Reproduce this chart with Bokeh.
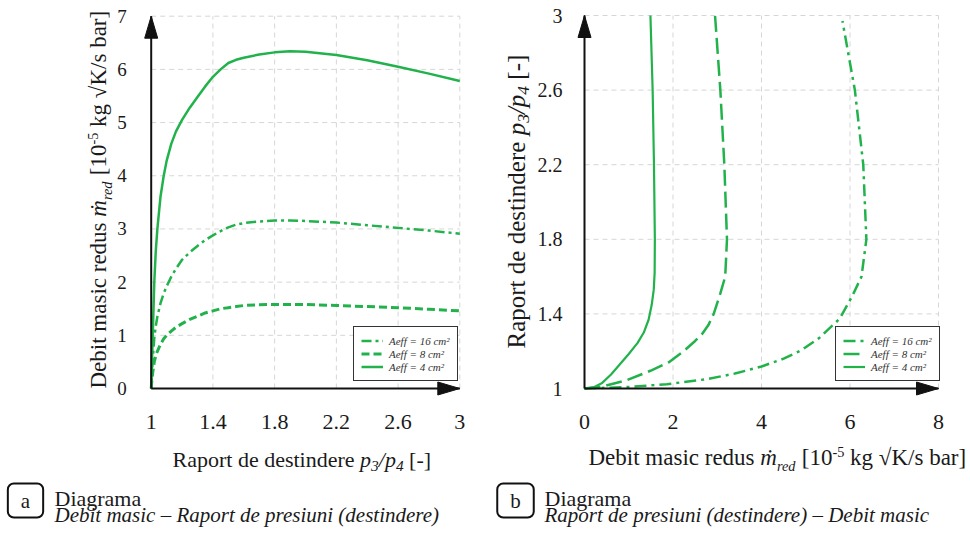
import math
from bokeh.plotting import figure
from bokeh.models import Range1d, Label, Legend, LegendItem
from bokeh.layouts import row
from bokeh.embed import file_html
from bokeh.resources import INLINE
from bokeh.core.properties import value

# ---------------- data ----------------
# Panel a: x = expansion ratio p3/p4 [-], y = reduced mass flow [1e-5 kg sqrt(K)/s bar]
pr_a = [1.0, 1.005, 1.01, 1.02, 1.03, 1.04, 1.06, 1.08, 1.1, 1.13, 1.16, 1.2, 1.25, 1.3,
        1.35, 1.4, 1.45, 1.5, 1.55, 1.6, 1.7, 1.8, 1.9, 2.0, 2.2, 2.4, 2.6, 2.8, 3.0]
m_a_solid = [0.0, 0.5, 1.0, 2.0, 2.6, 3.0, 3.6, 3.98, 4.28, 4.6, 4.83, 5.05, 5.28, 5.48,
             5.68, 5.86, 6.0, 6.12, 6.18, 6.22, 6.28, 6.32, 6.34, 6.33, 6.27, 6.17, 6.05,
             5.92, 5.78]
m_a_dashdot = [0.0, 0.3, 0.55, 0.95, 1.18, 1.35, 1.6, 1.78, 1.92, 2.1, 2.25, 2.42, 2.56, 2.68,
               2.79, 2.88, 2.96, 3.03, 3.08, 3.11, 3.14, 3.16, 3.16, 3.15, 3.12, 3.07, 3.02,
               2.97, 2.91]
m_a_dashed = [0.0, 0.18, 0.3, 0.5, 0.62, 0.7, 0.83, 0.93, 1.0, 1.08, 1.15, 1.22, 1.3, 1.36,
              1.42, 1.46, 1.5, 1.52, 1.54, 1.56, 1.575, 1.58, 1.58, 1.58, 1.56, 1.54, 1.52,
              1.49, 1.46]

# Panel b: x = reduced mass flow, y = expansion ratio
m_b_solid = [0.0, 0.2, 0.4, 0.6, 0.8, 1.0, 1.2, 1.34, 1.45, 1.52, 1.565, 1.585, 1.59, 1.57,
             1.54, 1.49]
pr_b_solid = [1.0, 1.006, 1.03, 1.075, 1.13, 1.185, 1.245, 1.3, 1.37, 1.45, 1.53, 1.62, 1.8,
              2.2, 2.6, 3.0]
m_b_dashed = [0.0, 0.4, 0.96, 1.49, 1.9, 2.24, 2.5, 2.65, 2.8, 2.92, 3.07, 3.18, 3.22, 3.16,
              3.07, 2.95]
pr_b_dashed = [1.0, 1.01, 1.045, 1.095, 1.14, 1.2, 1.255, 1.29, 1.34, 1.4, 1.51, 1.6, 1.8, 2.2,
               2.6, 3.0]
m_b_dashdot = [0.0, 1.0, 1.86, 2.76, 3.4, 4.0, 4.5, 4.9, 5.3, 5.77, 6.06, 6.26, 6.37, 6.30,
               6.11, 5.83]
pr_b_dashdot = [1.0, 1.008, 1.023, 1.05, 1.08, 1.118, 1.16, 1.205, 1.27, 1.375, 1.5, 1.6, 1.8,
                2.2, 2.6, 2.97]

legend_labels = ["Aeff = 16 cm²", "Aeff = 8 cm²", "Aeff = 4 cm²"]

xa_ticks = [1, 1.4, 1.8, 2.2, 2.6, 3]
xa_labels = ["1", "1.4", "1.8", "2.2", "2.6", "3"]
ya_ticks = [0, 1, 2, 3, 4, 5, 6, 7]
ya_labels = ["0", "1", "2", "3", "4", "5", "6", "7"]
xb_ticks = [0, 2, 4, 6, 8]
xb_labels = ["0", "2", "4", "6", "8"]
yb_ticks = [1, 1.4, 1.8, 2.2, 2.6, 3]
yb_labels = ["1", "1.4", "1.8", "2.2", "2.6", "3"]

# ---------------- style ----------------
FONT = "Liberation Serif"
TXT = "#1a1a1a"
GREEN = "#22b24c"
GRID = "#d6d6d6"
AXC = "#111111"
H_TOTAL = 536
MID = 0.3375   # distance (em) from alphabetic baseline to the middle line

REG = {' ': 250, 'a': 444, 'b': 500, 'c': 444, 'd': 500, 'e': 444, 'f': 333, 'g': 500, 'h': 500,
       'i': 278, 'k': 500, 'l': 278, 'm': 778, 'n': 500, 'o': 500, 'p': 500, 'r': 333, 's': 389,
       't': 278, 'u': 500, 'D': 722, 'R': 667, 'K': 722, '[': 333, ']': 333, '-': 333, '/': 278,
       '.': 250, '√': 549, '(': 333, ')': 333}
ITA = {' ': 250, 'a': 500, 'b': 500, 'c': 444, 'd': 500, 'e': 444, 'f': 278, 'i': 278, 'm': 722,
       'n': 500, 'p': 500, 'r': 389, 's': 389, 't': 278, 'u': 500, 'ṁ': 722, '/': 278}


def tw(text, italic, size):
    tbl = ITA if italic else REG
    return sum(tbl.get(ch, 500) for ch in text) * size / 1000.0


def rich(p, segs, x0, y0, vertical, X, Y):
    """x0, y0: picture px of the start of the main baseline."""
    pos = 0.0
    for text, italic, size, shift in segs:
        lead = len(text) - len(text.lstrip(' '))
        if lead:
            pos += tw(' ' * lead, italic, size)
            text = text.lstrip(' ')
        up = shift + MID * size
        if vertical:
            px, py, ang = x0 - up, y0 - pos, math.pi / 2
        else:
            px, py, ang = x0 + pos, y0 - up, 0.0
        p.add_layout(Label(x=X(px), y=Y(py), text=text, angle=ang, text_align="left",
                           text_baseline="middle", text_font=FONT,
                           text_font_size=f"{size}px",
                           text_font_style="italic" if italic else "normal",
                           text_color=TXT))
        pos += tw(text, italic, size)


def mdot_segs(S):
    return [("Debit masic redus ", False, S, 0), ("ṁ", True, S, 0),
            ("red", True, round(S * 0.62, 1), -0.22 * S), (" [10", False, S, 0),
            ("-5", False, round(S * 0.62, 1), 0.38 * S), (" kg √K/s bar]", False, S, 0)]


def ratio_segs(S):
    s2 = round(S * 0.7, 1)
    return [("Raport de destindere ", False, S, 0), ("p", True, S, 0), ("3", True, s2, -0.2 * S),
            ("/", True, S, 0), ("p", True, S, 0), ("4", True, s2, -0.2 * S), (" [-]", False, S, 0)]


def caption(p, X, Y, letter, cx, tx, line2):
    S = 21
    p.add_layout(Label(x=X(cx), y=Y(500), text=letter, text_align="center",
                       text_baseline="middle", text_font=FONT, text_font_size=f"{S}px",
                       text_color=TXT, border_line_color="#111111", border_line_width=2,
                       border_radius=6, background_fill_color="white",
                       padding=dict(left=13, right=13, top=5, bottom=5)))
    p.add_layout(Label(x=X(tx), y=Y(505 - MID * 22), text="Diagrama", text_font=FONT,
                       text_font_size="22px", text_color=TXT, text_baseline="middle"))
    p.add_layout(Label(x=X(tx), y=Y(522 - MID * S), text=line2, text_font=FONT,
                       text_font_size=f"{S}px", text_font_style="italic", text_color=TXT,
                       text_baseline="middle"))


def make_fig(x_lo, x_hi, X, Y):
    fig = figure(width=x_hi - x_lo, height=H_TOTAL,
                 x_range=Range1d(X(x_lo), X(x_hi)), y_range=Range1d(Y(H_TOTAL), Y(0)),
                 min_border=0, x_axis_type=None, y_axis_type=None,
                 toolbar_location=None, output_backend="svg", title=None)
    fig.outline_line_color = None
    fig.background_fill_color = "white"
    fig.border_fill_color = "white"
    return fig


def tick_labels(fig, xt, xl, yt, yl, x0, y0, xsize, ysize, xoff_y, yoff_x):
    fig.text(x=xt, y=[y0] * len(xt), text=xl, text_align="center", text_baseline="middle",
             y_offset=xoff_y, text_font=value(FONT), text_font_size=value(xsize),
             text_color=TXT)
    fig.text(x=[x0] * len(yt), y=yt, text=yl, text_align="right", text_baseline="middle",
             x_offset=yoff_x, text_font=value(FONT), text_font_size=value(ysize),
             text_color=TXT)


def axes_arrows(fig, x0, x1, y0, y1, kx, ky):
    fig.line([x0, x1], [y0, y0], line_color=AXC, line_width=2)
    fig.line([x0, x0], [y0, y1], line_color=AXC, line_width=2)
    L, H = 22, 6.5
    fig.patch([x0 - H * kx, x0, x0 + H * kx], [y1 - L * ky, y1, y1 - L * ky],
              fill_color=AXC, line_color=AXC, line_width=1)
    fig.patch([x1 - L * kx, x1, x1 - L * kx], [y0 - H * ky, y0, y0 + H * ky],
              fill_color=AXC, line_color=AXC, line_width=1)


def grid_lines(fig, xt, yt, x0, x1, y0, y1):
    vx = [t for t in xt if t != x0]
    hy = [t for t in yt if t != y0]
    fig.segment(x0=vx, y0=[y0] * len(vx), x1=vx, y1=[y1] * len(vx), line_color=GRID,
                line_width=1, line_dash="5 4")
    fig.segment(x0=[x0] * len(hy), y0=hy, x1=[x1] * len(hy), y1=hy, line_color=GRID,
                line_width=1, line_dash="5 4")


def make_legend(fig, rends, loc):
    items = [LegendItem(label=lab, renderers=[r]) for lab, r in zip(legend_labels, rends)]
    leg = Legend(items=items, location=loc, margin=0, padding=7, spacing=0,
                 glyph_width=22, glyph_height=13, label_height=13, label_standoff=6,
                 label_text_font=FONT, label_text_font_style="italic",
                 label_text_font_size="11px", label_text_color="#333333",
                 border_line_color="#333333", border_line_width=1, border_line_alpha=1,
                 background_fill_color="white", background_fill_alpha=1)
    fig.add_layout(leg)


# ---------------- panel a ----------------
AX0, AX1, AY0, AY1 = 150.7, 459.3, 388.0, 15.7     # picture px of x=1, x=3, y=0, y=7
kxa = 2.0 / (AX1 - AX0)
kya = 7.0 / (AY0 - AY1)
Xa = lambda px: 1 + (px - AX0) * kxa
Ya = lambda py: (AY0 - py) * kya

pa = make_fig(0, 485, Xa, Ya)
grid_lines(pa, xa_ticks, ya_ticks, 1, 3, 0, 7)
ra3 = pa.line(pr_a, m_a_dashdot, line_color=GREEN, line_width=2.5, line_dash="10 4 3 4")
ra2 = pa.line(pr_a, m_a_dashed, line_color=GREEN, line_width=3, line_dash="8 4")
ra1 = pa.line(pr_a, m_a_solid, line_color=GREEN, line_width=2.5)
axes_arrows(pa, 1, 3, 0, 7, kxa, kya)
tick_labels(pa, xa_ticks, xa_labels, ya_ticks, ya_labels, 1, 0, "22px", "19px", 33, -24.5)
make_legend(pa, [ra3, ra2, ra1], (353, H_TOTAL - 381))

rich(pa, mdot_segs(23), 106, 388, True, Xa, Ya)
rich(pa, ratio_segs(22), 172, 466, False, Xa, Ya)
caption(pa, Xa, Ya, "a", 25, 54, "Debit masic – Raport de presiuni (destindere)")

# ---------------- panel b ----------------
BX0, BX1, BY0, BY1 = 584.0, 938.0, 388.0, 15.0     # picture px of x=0, x=8, y=1, y=3
kxb = 8.0 / (BX1 - BX0)
kyb = 2.0 / (BY0 - BY1)
Xb = lambda px: (px - BX0) * kxb
Yb = lambda py: 1 + (BY0 - py) * kyb

pb = make_fig(485, 970, Xb, Yb)
grid_lines(pb, xb_ticks, yb_ticks, 0, 8, 1, 3)
rb3 = pb.line(m_b_dashdot, pr_b_dashdot, line_color=GREEN, line_width=2.5, line_dash="12 5 3 5")
rb2 = pb.line(m_b_dashed, pr_b_dashed, line_color=GREEN, line_width=2.5, line_dash="16 6")
rb1 = pb.line(m_b_solid, pr_b_solid, line_color=GREEN, line_width=2.2)
axes_arrows(pb, 0, 8, 1, 3, kxb, kyb)
tick_labels(pb, xb_ticks, xb_labels, yb_ticks, yb_labels, 0, 1, "22px", "20px", 33, -22)
make_legend(pb, [rb3, rb2, rb1], (835 - 485, H_TOTAL - 381))

rich(pb, ratio_segs(25), 524, 348, True, Xb, Yb)
rich(pb, mdot_segs(23), 588, 465, False, Xb, Yb)
caption(pb, Xb, Yb, "b", 515, 544, "Raport de presiuni (destindere) – Debit masic")

layout = row(pa, pb)
open("out.html", "w").write(file_html(layout, INLINE))
